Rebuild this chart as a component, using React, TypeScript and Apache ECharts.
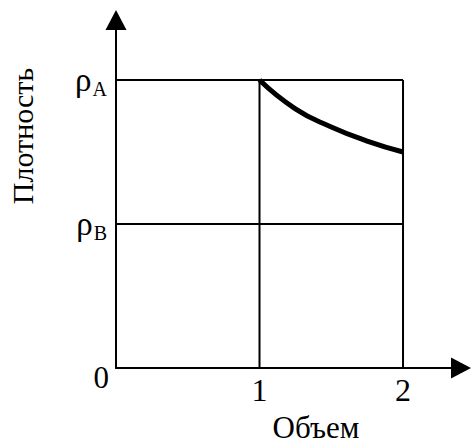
import React, { useEffect, useRef } from "react";
import * as echarts from "echarts";

const FONT = "Liberation Serif";

// Axis values (ρA = 1, ρB = 0.5 in relative units)
const volumeTicks = [1, 2];
const densityLevelA = 1;
const densityLevelB = 0.5;
const xMax = 2.404;
const yMax = 1.2083;

// Curve: density vs volume
const curveVolume = [1, 1.25, 1.5, 1.75, 2];
const curveDensity = [1, 0.9, 0.837, 0.788, 0.75];

const xTitle = "Объем";
const yTitle = "Плотность";

export default function App() {
  const ref = useRef<HTMLDivElement>(null);
  useEffect(() => {
    if (!ref.current) return;
    const chart = echarts.init(ref.current, undefined, { renderer: "svg" });
    const lineStyle = { color: "#000", width: 2 };
    const vMax = volumeTicks[volumeTicks.length - 1];
    chart.setOption({
      animation: false,
      backgroundColor: "#fff",
      grid: { left: 116, right: 12, top: 20, bottom: 76, containLabel: false },
      xAxis: {
        type: "value",
        min: 0,
        max: xMax,
        interval: 1,
        splitLine: { show: false },
        axisTick: { show: false },
        axisLine: {
          show: true,
          onZero: false,
          symbol: ["none", "triangle"],
          symbolSize: [21, 20],
          lineStyle: { color: "#000", width: 2 },
        },
        axisLabel: {
          margin: 6,
          fontFamily: FONT,
          fontSize: 32,
          color: "#000",
          showMaxLabel: false,
          formatter: (v: number) => (volumeTicks.indexOf(v) >= 0 ? String(v) : ""),
        },
      },
      yAxis: {
        type: "value",
        min: 0,
        max: yMax,
        interval: 0.5,
        splitLine: { show: false },
        axisTick: { show: false },
        axisLine: {
          show: true,
          onZero: false,
          symbol: ["none", "triangle"],
          symbolSize: [21, 20],
          lineStyle: { color: "#000", width: 2 },
        },
        axisLabel: {
          margin: 7,
          color: "#000",
          fontFamily: FONT,
          showMaxLabel: false,
          formatter: (v: number) => {
            if (v === densityLevelA) return "{r|ρ}{s|A}";
            if (v === densityLevelB) return "{r|ρ}{s|B}";
            if (v === 0) return "{z|0}";
            return "";
          },
          rich: {
            r: { fontFamily: FONT, fontSize: 33, color: "#000" },
            s: { fontFamily: FONT, fontSize: 20, color: "#000", padding: [18, 2, 0, 1] },
            z: { fontFamily: FONT, fontSize: 31, color: "#000", padding: [19, 0, 0, 0] },
          },
        },
      },
      graphic: [
        {
          type: "text",
          x: 316,
          y: 427,
          style: {
            text: xTitle,
            fontFamily: FONT,
            fontSize: 31,
            fill: "#000",
            align: "center",
            verticalAlign: "middle",
          },
        },
        {
          type: "text",
          x: 22,
          y: 136,
          rotation: Math.PI / 2,
          style: {
            text: yTitle,
            fontFamily: FONT,
            fontSize: 30,
            fill: "#000",
            align: "center",
            verticalAlign: "middle",
          },
        },
      ],
      series: [
        {
          name: "ρA",
          type: "line",
          silent: true,
          symbol: "none",
          lineStyle,
          data: [
            [0, densityLevelA],
            [vMax, densityLevelA],
          ],
        },
        {
          name: "ρB",
          type: "line",
          silent: true,
          symbol: "none",
          lineStyle,
          data: [
            [0, densityLevelB],
            [vMax, densityLevelB],
          ],
        },
        ...volumeTicks.map((v) => ({
          name: "V" + v,
          type: "line",
          silent: true,
          symbol: "none",
          lineStyle,
          data: [
            [v, 0],
            [v, densityLevelA],
          ],
        })),
        {
          name: "Плотность",
          type: "line",
          silent: true,
          symbol: "none",
          smooth: 0.5,
          lineStyle: { color: "#000", width: 5 },
          data: curveVolume.map((v, i) => [v, curveDensity[i]]),
        },
      ],
    });
    return () => chart.dispose();
  }, []);
  return (
    <div
      ref={ref}
      style={{ position: "fixed", left: 0, top: 0, width: 473, height: 444 }}
    />
  );
}
